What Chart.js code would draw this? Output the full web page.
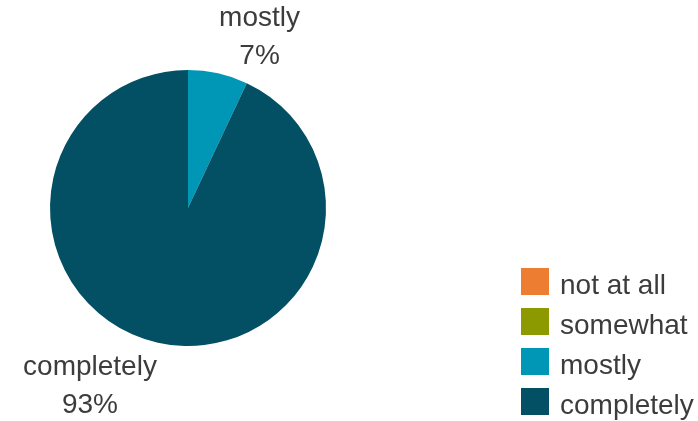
<!DOCTYPE html>
<html><head><meta charset="utf-8">
<script src="https://cdn.jsdelivr.net/npm/chart.js@4"></script>
<style>html,body{margin:0;padding:0;background:#fff}canvas{display:block}</style>
</head><body>
<canvas id="c" width="698" height="421"></canvas>
<script>
const categories = ['not at all', 'somewhat', 'mostly', 'completely'];
const values = [0, 0, 7, 93];
const colors = ['#ED7D31', '#8C9A00', '#0096B6', '#034F63'];

const FONT = '"Liberation Sans", Arial, sans-serif';
const TEXT = '#3c3c3c';

const labelPlugin = {
  id: 'outLabels',
  afterDatasetsDraw(chart) {
    const ctx = chart.ctx;
    const meta = chart.getDatasetMeta(0);
    const total = values.reduce((a, b) => a + b, 0);
    ctx.save();
    ctx.font = '28px ' + FONT;
    ctx.fillStyle = TEXT;
    ctx.textAlign = 'center';
    ctx.textBaseline = 'alphabetic';
    const lh = 38;
    meta.data.forEach((arc, i) => {
      if (!values[i]) return;
      const p = arc.getProps(['x', 'y', 'startAngle', 'endAngle', 'outerRadius'], true);
      const mid = (p.startAngle + p.endAngle) / 2;
      const ax = p.x + Math.cos(mid) * p.outerRadius;
      const ay = p.y + Math.sin(mid) * p.outerRadius;
      const lines = [categories[i], Math.round(values[i] / total * 100) + '%'];
      const w = Math.max(...lines.map(l => ctx.measureText(l).width));
      const left = Math.cos(mid) >= 0 ? ax + 1 : ax - 1 - w;
      const cx = left + w / 2;
      const firstBase = Math.sin(mid) < 0 ? ay - 9 - lh * (lines.length - 1) : ay + 32;
      lines.forEach((l, k) => ctx.fillText(l, cx, firstBase + lh * k));
    });
    ctx.restore();
  }
};

const legendPlugin = {
  id: 'sideLegend',
  afterDraw(chart) {
    const ctx = chart.ctx;
    ctx.save();
    ctx.font = '28px ' + FONT;
    ctx.textAlign = 'left';
    ctx.textBaseline = 'alphabetic';
    const x0 = 521, y0 = 268, box = 28, pitch = 40;
    chart.data.labels.forEach((lab, i) => {
      const y = y0 + i * pitch;
      ctx.fillStyle = chart.data.datasets[0].backgroundColor[i];
      ctx.fillRect(x0, y, box, box - 1);
      ctx.fillStyle = TEXT;
      ctx.fillText(lab, x0 + 39, y + 25.5);
    });
    ctx.restore();
  }
};

new Chart(document.getElementById('c'), {
  type: 'pie',
  data: {
    labels: categories,
    datasets: [{ data: values, backgroundColor: colors, borderWidth: 0 }]
  },
  options: {
    responsive: false,
    animation: false,
    layout: { padding: { left: 50, right: 372, top: 70, bottom: 75 } },
    plugins: { legend: { display: false }, tooltip: { enabled: false } }
  },
  plugins: [labelPlugin, legendPlugin]
});
</script>
</body></html>
